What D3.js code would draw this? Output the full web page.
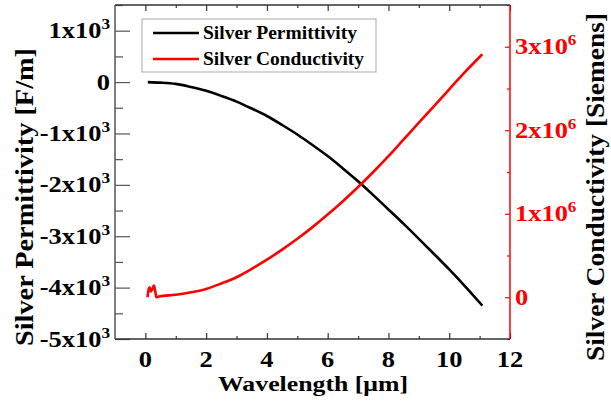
<!DOCTYPE html>
<html><head><meta charset="utf-8">
<script src="https://cdn.jsdelivr.net/npm/d3@7"></script>
<style>
body{margin:0;background:#fff}
text{font-family:"Liberation Serif","Times New Roman",serif;font-weight:bold}
</style>
</head><body>
<svg id="c" width="611" height="406"></svg>
<script>
// ---- data ----
const permWavelength = [0.08, 0.5, 1, 1.5, 2, 2.5, 3, 3.5, 4, 4.5, 5, 5.5, 6, 6.5, 7, 7.5, 8, 8.5, 9, 9.5, 10, 10.5, 11.09];
const permittivity   = [0, -10, -35, -95, -170, -270, -380, -515, -660, -835, -1020, -1225, -1440, -1680, -1930, -2200, -2480, -2760, -3050, -3345, -3645, -3960, -4350];
const condWavelength = [0.07, 0.11, 0.14, 0.18, 0.22, 0.28, 0.33, 0.36, 0.45, 1, 1.5, 2, 2.5, 3, 3.5, 4, 4.5, 5, 5.5, 6, 6.5, 7, 7.5, 8, 8.5, 9, 9.5, 10, 10.5, 11.09];
const conductivity   = [0.0, 0.10e6, 0.12e6, 0.07e6, 0.09e6, 0.14e6, 0.06e6, 0.0, 0.01e6, 0.03e6, 0.06e6, 0.10e6, 0.165e6, 0.24e6, 0.34e6, 0.45e6, 0.57e6, 0.70e6, 0.84e6, 0.99e6, 1.15e6, 1.32e6, 1.50e6, 1.69e6, 1.89e6, 2.09e6, 2.29e6, 2.49e6, 2.69e6, 2.91e6];

const xTicks = [0, 2, 4, 6, 8, 10, 12];
const xMinorTicks = [1, 3, 5, 7, 9, 11];
const leftTicks = [1000, 0, -1000, -2000, -3000, -4000, -5000];
const leftTickLabels = ["1x10^3", "0", "-1x10^3", "-2x10^3", "-3x10^3", "-4x10^3", "-5x10^3"];
const leftMinorTicks = [1500, 500, -500, -1500, -2500, -3500, -4500];
const rightTicks = [3e6, 2e6, 1e6, 0];
const rightTickLabels = ["3x10^6", "2x10^6", "1x10^6", "0"];
const rightMinorTicks = [3.5e6, 2.5e6, 1.5e6, 0.5e6, -0.5e6];
const seriesNames = ["Silver Permittivity", "Silver Conductivity"];
const seriesColors = ["#000000", "#ff0000"];

// ---- layout ----
const L = 115, R = 510, T = 5, B = 339, SX = 1.15;
const svg = d3.select("#c");
const x = d3.scaleLinear().domain([-1, 12]).range([L, R]);
const yL = d3.scaleLinear().domain([-5000, 1500]).range([B, T]);
const yR = d3.scaleLinear().domain([-0.5e6, 3.5e6]).range([B, T]);

function styleAxis(g, color) {
  g.select(".domain").remove();
  g.selectAll(".tick line").attr("stroke", color).attr("stroke-width", 1.2);
  g.selectAll(".tick text").remove();
}
// bottom
svg.append("g").attr("transform", `translate(0,${B})`)
  .call(d3.axisBottom(x).tickValues(xTicks).tickSize(-6)).call(g => styleAxis(g, "#333"));
svg.append("g").attr("transform", `translate(0,${B})`)
  .call(d3.axisBottom(x).tickValues(xMinorTicks).tickSize(-3)).call(g => styleAxis(g, "#333"));
// top
svg.append("g").attr("transform", `translate(0,${T})`)
  .call(d3.axisTop(x).tickValues(xTicks).tickSize(-6)).call(g => styleAxis(g, "#333"));
svg.append("g").attr("transform", `translate(0,${T})`)
  .call(d3.axisTop(x).tickValues(xMinorTicks).tickSize(-3)).call(g => styleAxis(g, "#333"));
// left
svg.append("g").attr("transform", `translate(${L},0)`)
  .call(d3.axisLeft(yL).tickValues(leftTicks).tickSize(-15)).call(g => styleAxis(g, "#555"));
svg.append("g").attr("transform", `translate(${L},0)`)
  .call(d3.axisLeft(yL).tickValues(leftMinorTicks).tickSize(-8)).call(g => styleAxis(g, "#555"));
// right
svg.append("g").attr("transform", `translate(${R},0)`)
  .call(d3.axisRight(yR).tickValues(rightTicks).tickSize(-5)).call(g => styleAxis(g, "#ff0000"));
svg.append("g").attr("transform", `translate(${R},0)`)
  .call(d3.axisRight(yR).tickValues(rightMinorTicks).tickSize(-3)).call(g => styleAxis(g, "#ff0000"));

// frame
svg.append("line").attr("x1", L).attr("x2", R).attr("y1", B).attr("y2", B).attr("stroke", "#333").attr("stroke-width", 1.5);
svg.append("line").attr("x1", L).attr("x2", R).attr("y1", T).attr("y2", T).attr("stroke", "#333").attr("stroke-width", 1.5);
svg.append("line").attr("x1", L).attr("x2", L).attr("y1", T).attr("y2", B).attr("stroke", "#555").attr("stroke-width", 1.5);
svg.append("line").attr("x1", R).attr("x2", R).attr("y1", T).attr("y2", B).attr("stroke", "#ff0000").attr("stroke-width", 1.5);

// stretched text helper (reference text is horizontally wide)
function stext(px, py, anchor, size, color) {
  return svg.append("g").attr("transform", `translate(${px},${py}) scale(${SX},1)`)
    .append("text").attr("x", 0).attr("y", 0).attr("text-anchor", anchor)
    .attr("font-size", size).attr("fill", color);
}
function sciLabel(sel, s) {
  const parts = s.split("^");
  sel.append("tspan").text(parts[0]);
  if (parts[1]) sel.append("tspan").attr("font-size", 15).attr("dy", -9).text(parts[1]);
}
xTicks.forEach(v => stext(x(v), 367, "middle", 23, "#000").text(v));
leftTicks.forEach((v, i) => sciLabel(stext(110, yL(v) + 7.5, "end", 23, "#000"), leftTickLabels[i]));
rightTicks.forEach((v, i) => sciLabel(stext(515, yR(v) + 7.5, "start", 23, "#ff0000"), rightTickLabels[i]));

// axis titles
stext(313, 391, "middle", 22, "#000").attr("textLength", 190 / SX).attr("lengthAdjust", "spacingAndGlyphs")
  .text("Wavelength [μm]");
svg.append("text").attr("transform", `translate(33,197) scale(${SX},1) rotate(-90)`).attr("text-anchor", "middle")
  .attr("font-size", 22).attr("fill", "#000").attr("textLength", 298).attr("lengthAdjust", "spacingAndGlyphs")
  .text("Silver Permittivity [F/m]");
svg.append("text").attr("transform", `translate(604,187) scale(${SX},1) rotate(-90)`).attr("text-anchor", "middle")
  .attr("font-size", 22).attr("fill", "#000").attr("textLength", 348).attr("lengthAdjust", "spacingAndGlyphs")
  .text("Silver Conductivity [Siemens]");

// lines
const permData = permWavelength.map((w, i) => [w, permittivity[i]]);
const condData = condWavelength.map((w, i) => [w, conductivity[i]]);
svg.append("path").datum(permData)
  .attr("d", d3.line().x(d => x(d[0])).y(d => yL(d[1])).curve(d3.curveMonotoneX))
  .attr("fill", "none").attr("stroke", seriesColors[0]).attr("stroke-width", 2.6);
svg.append("path").datum(condData)
  .attr("d", d3.line().x(d => x(d[0])).y(d => yR(d[1])).curve(d3.curveMonotoneX))
  .attr("fill", "none").attr("stroke", seriesColors[1]).attr("stroke-width", 2.6);

// legend
const legendTextLen = [154, 161];
svg.append("rect").attr("x", 142).attr("y", 19).attr("width", 234).attr("height", 53)
  .attr("fill", "#fff").attr("stroke", "#aaa").attr("stroke-width", 1);
seriesNames.forEach((n, i) => {
  const yy = 33 + i * 26;
  svg.append("line").attr("x1", 153).attr("x2", 199).attr("y1", yy).attr("y2", yy)
    .attr("stroke", seriesColors[i]).attr("stroke-width", 2.6);
  stext(203, yy + 6, "start", 18, "#000").attr("textLength", legendTextLen[i] / SX)
    .attr("lengthAdjust", "spacingAndGlyphs").text(n);
});
</script>
</body></html>
